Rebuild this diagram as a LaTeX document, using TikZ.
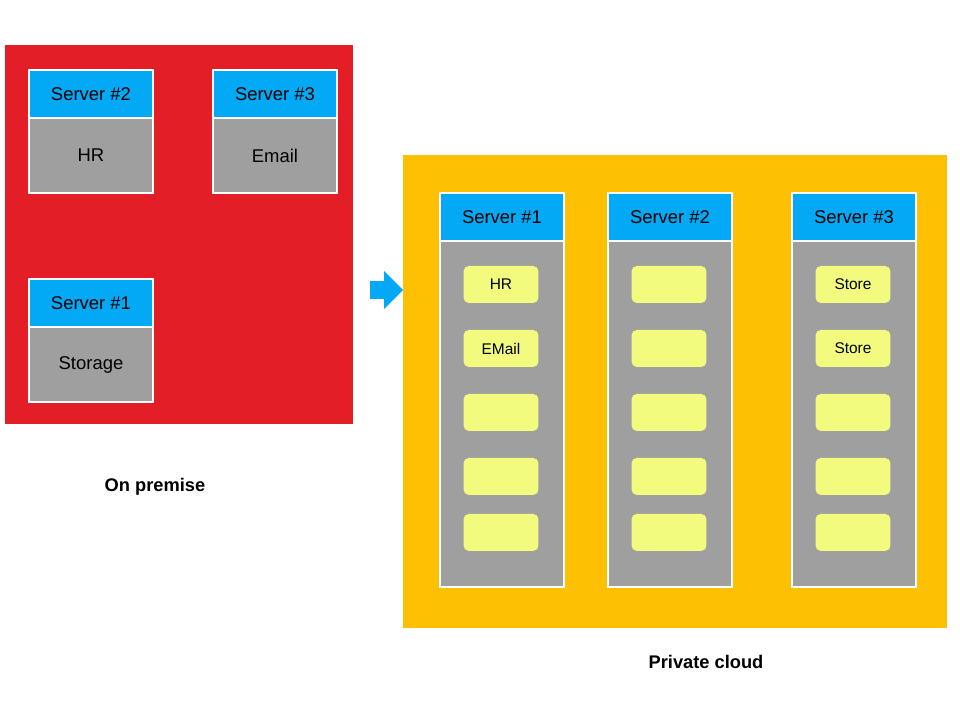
\documentclass[tikz,border=0pt]{standalone}
\usepackage{fontspec}
\setmainfont{Liberation Sans}
\usetikzlibrary{positioning,shapes.arrows}
\definecolor{onprem}{HTML}{E41E26}
\definecolor{cloud}{HTML}{FDC002}
\definecolor{head}{HTML}{03A9F4}
\definecolor{body}{HTML}{9F9F9F}
\definecolor{vm}{HTML}{F2FB7E}
\tikzset{
  area/.style={rectangle, inner sep=0pt, outer sep=0pt},
  hdr/.style={draw=white, line width=0.7pt, fill=head, minimum width=2.48cm,
              minimum height=0.96cm, inner sep=0pt, outer sep=0pt,
              font=\fontsize{10.5}{12}\selectfont},
  srv/.style={draw=white, line width=0.7pt, fill=body, minimum width=2.48cm,
              inner sep=0pt, outer sep=0pt, font=\fontsize{10.5}{12}\selectfont},
  slot/.style={fill=vm, rounded corners=3pt, minimum width=1.5cm,
               minimum height=0.74cm, inner sep=0pt, outer sep=0pt,
               font=\fontsize{8.8}{10}\selectfont},
  caption/.style={font=\fontsize{10.4}{12}\selectfont\bfseries},
}
\begin{document}
\begin{tikzpicture}[x=0.02cm, y=-0.02cm]
  \useasboundingbox (0,0) rectangle (960,720);
  % the two sites
  \node[area, fill=onprem, minimum width=6.96cm, minimum height=7.58cm] (prem) at (179,234.5) {};
  \node[area, fill=cloud, minimum width=10.88cm, minimum height=9.46cm] (priv) at (675,391.5) {};
  % on premise servers
  \node[hdr, anchor=north west] (h2) at (29,70) {Server \#2};
  \node[srv, minimum height=1.5cm, below=0pt of h2] (s2) {HR};
  \node[hdr, anchor=north west] (h3) at (213,70) {Server \#3};
  \node[srv, minimum height=1.5cm, below=0pt of h3] (s3) {Email};
  \node[hdr, anchor=north west] (h1) at (29,279) {Server \#1};
  \node[srv, minimum height=1.5cm, below=0pt of h1] (s1) {Storage};
  % private cloud servers
  \node[hdr, anchor=north west] (c1) at (440,193) {Server \#1};
  \node[srv, minimum height=6.92cm, below=0pt of c1] (b1) {};
  \node[hdr, anchor=north west] (c2) at (608,193) {Server \#2};
  \node[srv, minimum height=6.92cm, below=0pt of c2] (b2) {};
  \node[hdr, anchor=north west] (c3) at (792,193) {Server \#3};
  \node[srv, minimum height=6.92cm, below=0pt of c3] (b3) {};
  % virtual machines
  \foreach \b/\ta/\tb in {b1/HR/EMail, b2//, b3/Store/Store} {
    \node[slot, below=0.5cm of \b.north, xshift=-0.02cm] (\b a) {\ta};
    \node[slot, below=0.54cm of \b a] (\b b) {\tb};
    \node[slot, below=0.54cm of \b b] (\b c) {};
    \node[slot, below=0.54cm of \b c] (\b d) {};
    \node[slot, below=0.38cm of \b d] (\b e) {};
  }
  % migration arrow
  \node[single arrow, fill=head, inner xsep=0pt, inner ysep=0.17cm, outer sep=0pt,
        minimum height=0.66cm, minimum width=0.74cm,
        single arrow head extend=0.2cm, anchor=tip] (move) at (403,290) {};
  % captions
  \node[caption] (lprem) at (155,487) {On premise};
  \node[caption] (lpriv) at (706,662) {Private cloud};
\end{tikzpicture}
\end{document}
